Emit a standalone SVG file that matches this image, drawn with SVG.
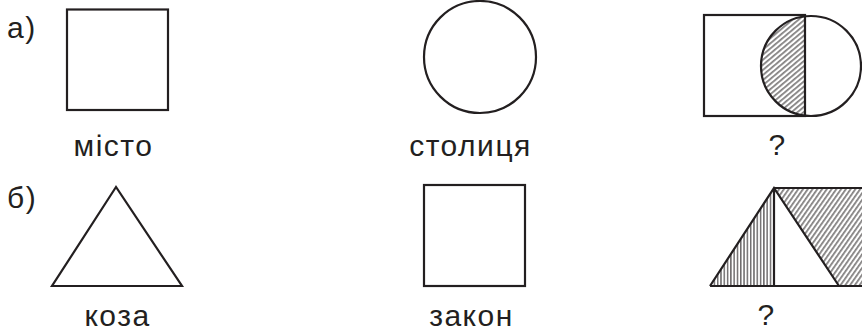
<svg xmlns="http://www.w3.org/2000/svg" width="862" height="331" viewBox="0 0 862 331">
<style>
.s{fill:none;stroke:#231f20;stroke-width:2.2;stroke-linejoin:miter}
.t{font-family:"Liberation Sans",Arial,sans-serif;font-size:30px;fill:#231f20;letter-spacing:1.5px}
.c{text-anchor:middle}
</style>
<defs>
<pattern id="hv" patternUnits="userSpaceOnUse" width="3.3" height="10"><line x1="1.6" y1="0" x2="1.6" y2="10" stroke="#231f20" stroke-width="1"/></pattern>
<pattern id="hc" patternUnits="userSpaceOnUse" width="3.9" height="10" patternTransform="rotate(50)"><line x1="1.9" y1="0" x2="1.9" y2="10" stroke="#231f20" stroke-width="1"/></pattern>
<pattern id="ht" patternUnits="userSpaceOnUse" width="3.9" height="10" patternTransform="rotate(35)"><line x1="1.9" y1="0" x2="1.9" y2="10" stroke="#231f20" stroke-width="1"/></pattern>
</defs>
<rect width="862" height="331" fill="#fff"/>
<g id="label-a"><text class="t" x="7" y="38">а)</text></g>
<g id="misto"><rect class="s" x="67" y="9.5" width="101" height="100.5"/><text class="t c" x="113.5" y="156">місто</text></g>
<g id="stolytsia"><circle class="s" cx="480" cy="57" r="56"/><text class="t c" x="470.5" y="156">столиця</text></g>
<g id="answer-a">
<path d="M805,16.4 A50,50 0 0,0 805,115.6 Z" fill="url(#hc)"/>
<rect class="s" x="704" y="15" width="101" height="101"/>
<circle class="s" cx="811" cy="66" r="50"/>
<text class="t c" x="777.5" y="155">?</text>
</g>
<g id="label-b"><text class="t" x="7" y="208">б)</text></g>
<g id="koza"><polygon class="s" points="116,187 52,286 182,286"/><text class="t c" x="117.5" y="326">коза</text></g>
<g id="zakon"><rect class="s" x="424" y="185" width="101" height="101"/><text class="t c" x="471.5" y="326">закон</text></g>
<g id="answer-b">
<polygon points="710,286 774,188 774,286" fill="url(#hv)"/>
<polygon points="774,188 862,188 862,286 839,286" fill="url(#ht)"/>
<path class="s" d="M710,286 L774,188 L839,286 M774,188 V286 M774,188 H862 M710,286 H862"/>
<text class="t c" x="766.5" y="325">?</text>
</g>
</svg>
